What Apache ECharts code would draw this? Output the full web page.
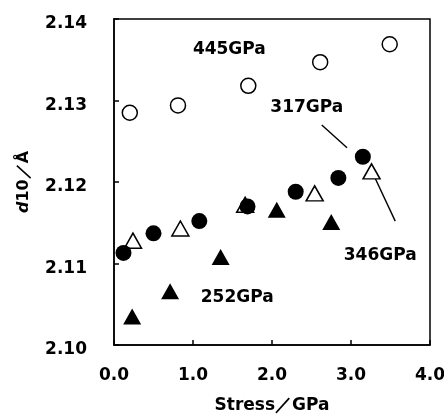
<!DOCTYPE html>
<html>
<head>
<meta charset="utf-8">
<script src="https://cdn.jsdelivr.net/npm/echarts@6/dist/echarts.min.js"></script>
<style>
html,body{margin:0;padding:0;background:#fff;}
#chart{width:444px;height:415px;}
</style>
</head>
<body>
<div id="chart"></div>
<script>
// x = stress (GPa), y = d10 (Å)
var stress445 = [0.20, 0.81, 1.70, 2.61, 3.49];
var d445 = [2.1285, 2.1294, 2.1318, 2.1347, 2.1369];

var stress346 = [0.24, 0.84, 1.66, 2.54, 3.26];
var d346 = [2.1128, 2.1143, 2.1172, 2.1186, 2.1213];

var stress252 = [0.23, 0.71, 1.35, 2.06, 2.75];
var d252 = [2.1035, 2.1066, 2.1108, 2.1166, 2.1151];

var stress317 = [0.12, 0.50, 1.08, 1.69, 2.30, 2.84, 3.15];
var d317 = [2.1113, 2.1137, 2.1152, 2.1170, 2.1188, 2.1205, 2.1231];

var xTicks = ['0.0', '1.0', '2.0', '3.0', '4.0'];
var yTicks = ['2.10', '2.11', '2.12', '2.13', '2.14'];

// labels and leader lines, in data coords
var labelNames = ['445GPa', '317GPa', '346GPa', '252GPa'];
var labelX = [1.46, 2.44, 3.37, 1.56];
var labelY = [2.1362, 2.1291, 2.1110, 2.1058];
var leader317 = [[2.63, 2.1270], [2.95, 2.1242]];
var leader346 = [[3.27, 2.1212], [3.56, 2.1152]];

function zip(xs, ys){
    var out = [];
    for(var i = 0; i < xs.length; i++){ out.push([xs[i], ys[i]]); }
    return out;
}

var FONT = 'DejaVu Sans';

var chartObj = {
    myChart : echarts.init(document.getElementById('chart')),
    option : null,
    init : function(){
        var that = this;
        that.render();
    },
    render : function(){
        var that = this;
        var labelData = [];
        for(var i = 0; i < labelNames.length; i++){
            labelData.push({value: [labelX[i], labelY[i]], name: labelNames[i]});
        }
        var lineStyle = {color: '#000', width: 1.5};
        that.option = {
            animation : false,
            grid : {
                left: 114, right: 14, top: 19, bottom: 70,
                containLabel: false, outerBoundsMode: 'none',
                show: true, borderColor: '#000', borderWidth: 1.5
            },
            xAxis : {
                type: 'value', min: 0, max: 4, interval: 1,
                name: 'Stress／GPa', nameLocation: 'middle', nameGap: 52,
                nameTextStyle: {fontFamily: FONT, fontWeight: 'bold', fontSize: 17, color: '#000'},
                axisLine: {lineStyle: lineStyle},
                axisTick: {inside: true, length: 5, lineStyle: lineStyle},
                splitLine: {show: false},
                axisLabel: {
                    margin: 22, fontFamily: FONT, fontWeight: 'bold', fontSize: 17, color: '#000',
                    formatter: function(v){ return xTicks[Math.round(v)]; }
                }
            },
            yAxis : {
                type: 'value', min: 2.10, max: 2.14, interval: 0.01,
                name: '{i|d}10／Å', nameLocation: 'middle', nameGap: 82,
                nameTextStyle: {
                    fontFamily: FONT, fontWeight: 'bold', fontSize: 16, color: '#000',
                    rich: {i: {fontFamily: FONT, fontWeight: 'bold', fontStyle: 'italic', fontSize: 16, color: '#000'}}
                },
                axisLine: {lineStyle: lineStyle},
                axisTick: {inside: true, length: 5, lineStyle: lineStyle},
                splitLine: {show: false},
                axisLabel: {
                    margin: 27, fontFamily: FONT, fontWeight: 'bold', fontSize: 17, color: '#000',
                    verticalAlign: 'top', lineHeight: 10,
                    formatter: function(v){ return yTicks[Math.round((v - 2.10) * 100)]; }
                }
            },
            series : [
                {
                    type: 'scatter', data: zip(stress445, d445),
                    symbol: 'circle', symbolSize: 15,
                    itemStyle: {color: '#fff', borderColor: '#000', borderWidth: 1.5, opacity: 1}
                },
                {
                    type: 'scatter', data: zip(stress346, d346),
                    symbol: 'triangle', symbolSize: [17, 15],
                    itemStyle: {color: '#fff', borderColor: '#000', borderWidth: 1.5, opacity: 1}
                },
                {
                    type: 'scatter', data: zip(stress252, d252),
                    symbol: 'triangle', symbolSize: [18, 16],
                    itemStyle: {color: '#000', opacity: 1}
                },
                {
                    type: 'scatter', data: zip(stress317, d317),
                    symbol: 'circle', symbolSize: 16,
                    itemStyle: {color: '#000', opacity: 1}
                },
                {
                    type: 'line', data: leader317, symbol: 'none',
                    lineStyle: {color: '#000', width: 1.4}, z: 1
                },
                {
                    type: 'line', data: leader346, symbol: 'none',
                    lineStyle: {color: '#000', width: 1.4}, z: 1
                },
                {
                    type: 'scatter', data: labelData, symbolSize: 0,
                    itemStyle: {opacity: 1},
                    label: {
                        show: true, position: 'inside',
                        formatter: '{b}',
                        fontFamily: FONT, fontWeight: 'bold', fontSize: 17, color: '#000'
                    }
                }
            ]
        };
        that.myChart.setOption(that.option);
    }
};
chartObj.init();
</script>
</body>
</html>
